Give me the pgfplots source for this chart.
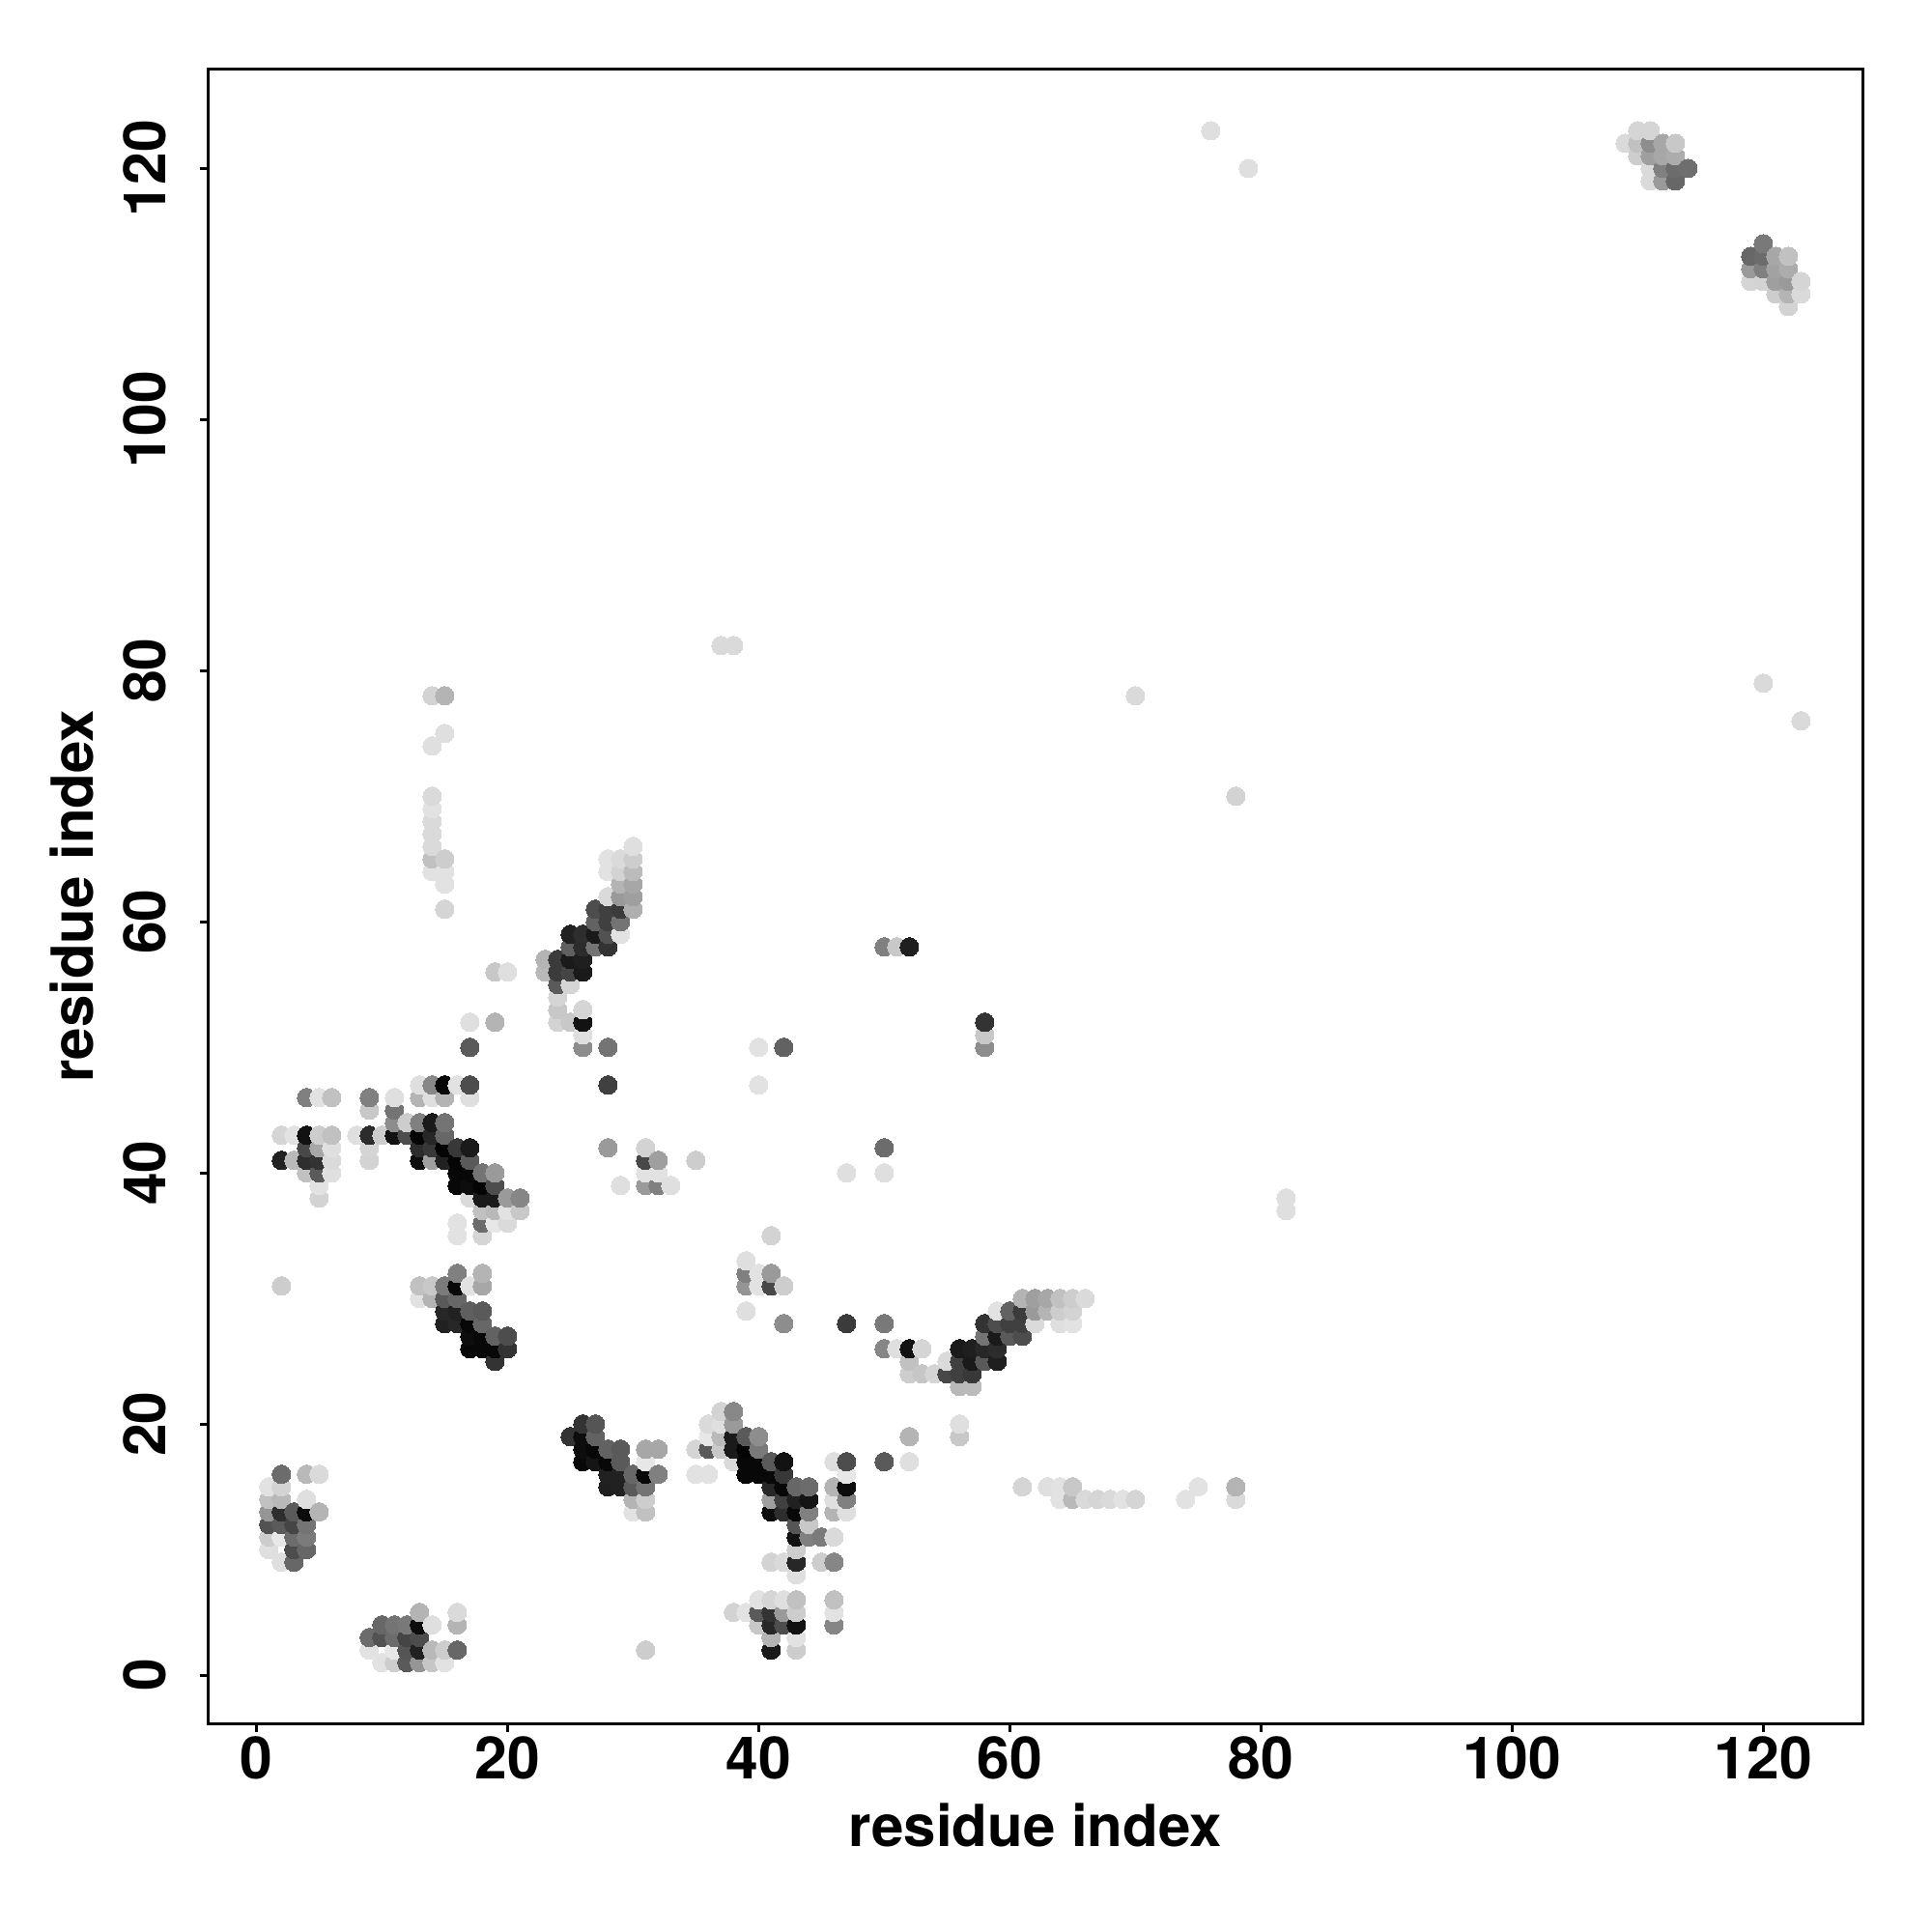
\documentclass[border=0pt]{standalone}
\usepackage{fontspec}
\setmainfont{TeX Gyre Heros}
\usepackage{pgfplots}
\usepackage{pgfplotstable}
\pgfplotsset{compat=1.18}

% contact map: residue i, residue j, gray level (0 black, 1 white)
\pgfplotstableread[row sep=\\]{
x y g \\
% top right
110 123 .83 \\ 111 123 .83 \\
109 122 .85 \\ 110 122 .75 \\ 111 122 .55 \\ 112 122 .65 \\ 113 122 .78 \\
110 121 .80 \\ 111 121 .62 \\ 112 121 .65 \\ 113 121 .67 \\
111 120 .85 \\ 112 120 .50 \\ 113 120 .42 \\ 114 120 .43 \\
111 119 .85 \\ 112 119 .60 \\ 113 119 .40 \\
120 114 .47 \\
119 113 .40 \\ 120 113 .42 \\ 121 113 .65 \\ 122 113 .75 \\
119 112 .60 \\ 120 112 .50 \\ 121 112 .63 \\ 122 112 .67 \\
119 111 .83 \\ 120 111 .82 \\ 121 111 .62 \\ 122 111 .60 \\ 123 111 .83 \\
121 110 .80 \\ 122 110 .70 \\ 123 110 .85 \\
122 109 .82 \\
% lone points
76 123 .87 \\ 79 120 .87 \\ 37 82 .85 \\ 38 82 .85 \\ 70 78 .85 \\ 78 70 .82 \\
120 79 .85 \\ 123 76 .85 \\ 82 38 .87 \\ 82 37 .87 \\
50 58 .50 \\ 51 58 .78 \\ 52 58 .12 \\ 58 52 .20 \\ 58 51 .78 \\ 58 50 .55 \\
42 50 .38 \\ 40 50 .88 \\ 40 47 .88 \\ 28 47 .25 \\ 28 50 .45 \\ 28 42 .60 \\
74 14 .88 \\ 75 15 .88 \\ 78 15 .70 \\ 78 14 .85 \\
47 40 .87 \\ 50 40 .87 \\ 50 42 .42 \\ 35 41 .80 \\ 29 39 .87 \\
% column at 14, 15
14 78 .82 \\ 15 78 .70 \\ 15 75 .87 \\ 14 74 .87 \\ 14 70 .85 \\ 14 69 .88 \\
14 68 .85 \\ 14 67 .85 \\ 14 66 .85 \\ 14 65 .75 \\ 15 65 .80 \\ 14 64 .88 \\
15 64 .88 \\ 15 63 .88 \\ 15 61 .83 \\ 19 56 .78 \\ 20 56 .87 \\
% diagonal 23-30 / 52-66
30 66 .87 \\ 28 65 .88 \\ 29 65 .85 \\ 30 65 .80 \\ 28 64 .88 \\ 29 64 .82 \\ 30 64 .73 \\
29 63 .70 \\ 30 63 .65 \\ 28 62 .85 \\ 29 62 .60 \\ 30 62 .62 \\
27 61 .30 \\ 28 61 .25 \\ 29 61 .23 \\ 30 61 .68 \\
27 60 .38 \\ 28 60 .25 \\ 29 60 .45 \\
25 59 .13 \\ 26 59 .18 \\ 27 59 .10 \\ 28 59 .32 \\ 29 59 .88 \\
25 58 .37 \\ 26 58 .17 \\ 27 58 .45 \\ 28 58 .20 \\
23 57 .70 \\ 24 57 .23 \\ 25 57 .10 \\ 26 57 .12 \\
23 56 .72 \\ 24 56 .23 \\ 25 56 .27 \\ 26 56 .10 \\
24 55 .35 \\ 25 55 .83 \\ 24 54 .83 \\ 24 53 .78 \\ 26 53 .83 \\
17 52 .87 \\ 19 52 .70 \\ 24 52 .82 \\ 25 52 .78 \\ 26 52 .07 \\
26 51 .87 \\ 17 50 .35 \\ 26 50 .55 \\
% cluster 2-21 / 35-47
13 47 .87 \\ 14 47 .53 \\ 15 47 .03 \\ 16 47 .88 \\ 17 47 .30 \\
4 46 .50 \\ 5 46 .88 \\ 6 46 .75 \\ 9 46 .50 \\ 11 46 .87 \\ 13 46 .70 \\ 14 46 .87 \\ 15 46 .70 \\ 17 46 .87 \\
9 45 .78 \\ 11 45 .45 \\
11 44 .55 \\ 12 44 .80 \\ 13 44 .50 \\ 14 44 .10 \\ 15 44 .45 \\
2 43 .83 \\ 3 43 .88 \\ 4 43 .07 \\ 5 43 .80 \\ 6 43 .75 \\ 8 43 .87 \\ 9 43 .17 \\ 10 43 .80 \\
11 43 .07 \\ 12 43 .30 \\ 13 43 .02 \\ 14 43 .15 \\ 15 43 .40 \\
4 42 .28 \\ 5 42 .65 \\ 6 42 .87 \\ 9 42 .83 \\ 13 42 .17 \\ 14 42 .22 \\ 15 42 .02 \\ 16 42 .22 \\ 17 42 .10 \\
2 41 .13 \\ 3 41 .72 \\ 4 41 .18 \\ 5 41 .20 \\ 6 41 .85 \\ 9 41 .82 \\ 13 41 .05 \\ 14 41 .62 \\ 15 41 .13 \\ 16 41 .02 \\ 17 41 .35 \\
4 40 .75 \\ 5 40 .35 \\ 6 40 .87 \\ 16 40 .03 \\ 17 40 .03 \\ 18 40 .45 \\ 19 40 .60 \\
5 39 .88 \\ 16 39 .03 \\ 17 39 .05 \\ 18 39 .02 \\ 19 39 .30 \\
5 38 .82 \\ 17 38 .85 \\ 18 38 .10 \\ 19 38 .10 \\ 20 38 .60 \\ 21 38 .52 \\
18 37 .75 \\ 19 37 .72 \\ 20 37 .88 \\ 21 37 .78 \\
16 36 .88 \\ 18 36 .42 \\ 19 36 .90 \\ 20 36 .85 \\
16 35 .88 \\ 18 35 .83 \\
% small group 31-33 / 39-42
31 42 .82 \\ 31 41 .28 \\ 32 41 .62 \\ 31 40 .88 \\ 32 40 .88 \\ 31 39 .60 \\ 32 39 .50 \\ 33 39 .87 \\
% group 39-42 / 29-35
41 35 .82 \\ 39 33 .87 \\ 39 32 .50 \\ 40 32 .88 \\ 41 32 .60 \\
39 31 .58 \\ 40 31 .88 \\ 41 31 .28 \\ 42 31 .80 \\ 39 29 .87 \\ 42 28 .55 \\ 47 28 .23 \\ 50 28 .47 \\ 50 26 .52 \\
% cluster 13-20 / 25-32
16 32 .50 \\ 18 32 .70 \\
2 31 .80 \\ 13 31 .75 \\ 14 31 .78 \\ 15 31 .48 \\ 16 31 .03 \\ 17 31 .88 \\ 18 31 .65 \\
13 30 .88 \\ 14 30 .70 \\ 15 30 .35 \\ 16 30 .40 \\
15 29 .15 \\ 16 29 .13 \\ 17 29 .37 \\ 18 29 .35 \\
15 28 .13 \\ 16 28 .15 \\ 17 28 .03 \\ 18 28 .40 \\
17 27 .05 \\ 18 27 .03 \\ 19 27 .38 \\ 20 27 .30 \\
17 26 .03 \\ 18 26 .03 \\ 19 26 .03 \\ 20 26 .20 \\
19 25 .20 \\
% diagonal 50-66 / 23-30
61 30 .70 \\ 62 30 .62 \\ 63 30 .65 \\ 64 30 .75 \\ 65 30 .80 \\ 66 30 .85 \\
59 29 .88 \\ 60 29 .38 \\ 61 29 .23 \\ 62 29 .60 \\ 63 29 .70 \\ 64 29 .80 \\ 65 29 .82 \\
58 28 .20 \\ 59 28 .30 \\ 60 28 .25 \\ 61 28 .25 \\ 62 28 .85 \\ 64 28 .87 \\ 65 28 .88 \\
58 27 .45 \\ 59 27 .10 \\ 60 27 .35 \\ 61 27 .30 \\
51 26 .87 \\ 52 26 .07 \\ 53 26 .83 \\ 56 26 .10 \\ 57 26 .12 \\ 58 26 .15 \\ 59 26 .17 \\
52 25 .75 \\ 55 25 .85 \\ 56 25 .25 \\ 57 25 .10 \\ 58 25 .35 \\ 59 25 .12 \\
52 24 .80 \\ 53 24 .77 \\ 54 24 .83 \\ 55 24 .28 \\ 56 24 .25 \\ 57 24 .22 \\
56 23 .72 \\ 57 23 .73 \\
56 20 .87 \\ 56 19 .78 \\ 52 19 .70 \\ 50 17 .35 \\ 52 17 .87 \\
61 15 .83 \\ 63 15 .87 \\ 64 15 .88 \\ 65 15 .78 \\
64 14 .88 \\ 65 14 .72 \\ 66 14 .85 \\ 67 14 .83 \\ 68 14 .85 \\ 69 14 .88 \\ 70 14 .83 \\
% cluster 25-32 / 13-20
26 20 .20 \\ 27 20 .33 \\
25 19 .20 \\ 26 19 .05 \\ 27 19 .38 \\
26 18 .05 \\ 27 18 .03 \\ 28 18 .38 \\ 29 18 .35 \\ 31 18 .65 \\ 32 18 .65 \\
26 17 .03 \\ 27 17 .08 \\ 28 17 .03 \\ 29 17 .35 \\ 31 17 .90 \\
28 16 .13 \\ 29 16 .13 \\ 30 16 .40 \\ 31 16 .03 \\ 32 16 .50 \\
28 15 .12 \\ 29 15 .13 \\ 30 15 .35 \\ 31 15 .45 \\
30 14 .70 \\ 31 14 .80 \\ 30 13 .88 \\ 31 13 .75 \\
% cluster 35-47 / 8-21
37 21 .82 \\ 38 21 .53 \\
36 20 .85 \\ 37 20 .87 \\ 38 20 .60 \\
36 19 .90 \\ 37 19 .72 \\ 38 19 .10 \\ 39 19 .35 \\ 40 19 .55 \\
35 18 .83 \\ 36 18 .35 \\ 37 18 .78 \\ 38 18 .10 \\ 39 18 .02 \\ 40 18 .47 \\
38 17 .85 \\ 39 17 .03 \\ 40 17 .03 \\ 41 17 .35 \\ 42 17 .07 \\ 46 17 .87 \\ 47 17 .30 \\
35 16 .88 \\ 36 16 .88 \\ 39 16 .03 \\ 40 16 .03 \\ 41 16 .03 \\ 42 16 .22 \\ 47 16 .90 \\
41 15 .15 \\ 42 15 .03 \\ 43 15 .40 \\ 44 15 .42 \\ 46 15 .70 \\ 47 15 .05 \\
41 14 .62 \\ 42 14 .25 \\ 43 14 .13 \\ 44 14 .08 \\ 46 14 .87 \\ 47 14 .50 \\
41 13 .05 \\ 42 13 .18 \\ 43 13 .03 \\ 44 13 .50 \\ 46 13 .70 \\ 47 13 .87 \\
43 12 .33 \\ 44 12 .78 \\
43 11 .07 \\ 44 11 .50 \\ 45 11 .48 \\ 46 11 .85 \\
43 10 .80 \\
41 9 .82 \\ 42 9 .85 \\ 43 9 .15 \\ 45 9 .80 \\ 46 9 .52 \\
43 8 .87 \\
% cluster 38-46 / 2-6
40 6 .88 \\ 41 6 .83 \\ 42 6 .87 \\ 43 6 .75 \\ 46 6 .75 \\
38 5 .82 \\ 39 5 .88 \\ 40 5 .35 \\ 41 5 .20 \\ 42 5 .60 \\ 43 5 .80 \\ 46 5 .88 \\
40 4 .78 \\ 41 4 .15 \\ 42 4 .30 \\ 43 4 .07 \\ 46 4 .52 \\
41 3 .70 \\ 43 3 .88 \\
31 2 .80 \\ 41 2 .10 \\ 43 2 .80 \\
% cluster 1-5 / 9-16
2 16 .42 \\ 4 16 .72 \\ 5 16 .85 \\
1 15 .88 \\ 2 15 .82 \\
1 14 .75 \\ 2 14 .72 \\ 4 14 .87 \\
1 13 .58 \\ 2 13 .18 \\ 3 13 .35 \\ 4 13 .05 \\ 5 13 .70 \\
1 12 .32 \\ 2 12 .35 \\ 3 12 .27 \\ 4 12 .45 \\
1 11 .80 \\ 2 11 .90 \\ 3 11 .42 \\ 4 11 .48 \\
1 10 .87 \\ 3 10 .30 \\ 4 10 .40 \\
2 9 .87 \\ 3 9 .40 \\
% cluster 9-16 / 1-5
13 5 .70 \\ 16 5 .85 \\
10 4 .40 \\ 11 4 .45 \\ 12 4 .47 \\ 13 4 .05 \\ 14 4 .87 \\ 16 4 .70 \\
9 3 .42 \\ 10 3 .32 \\ 11 3 .42 \\ 12 3 .27 \\ 13 3 .30 \\
9 2 .88 \\ 11 2 .90 \\ 12 2 .33 \\ 13 2 .13 \\ 14 2 .72 \\ 15 2 .80 \\ 16 2 .40 \\
10 1 .88 \\ 11 1 .80 \\ 12 1 .35 \\ 13 1 .58 \\ 14 1 .77 \\ 15 1 .88 \\
}\contacts

% points overlap in column order, later on top
\pgfplotstableset{create on use/k/.style={create col/expr={130*\thisrow{x}+\thisrow{y}}}}
\pgfplotstablesort[sort key=k]{\sorted}{\contacts}

\begin{document}
\begin{tikzpicture}
\path[use as bounding box] (0,0) rectangle (720pt,720pt);
\begin{axis}[
    at={(77.6pt,77.7pt)},
    anchor=south west,
    scale only axis,
    width=616.5pt,
    height=616.5pt,
    xmin=-3.83, xmax=127.9,
    ymin=-3.85, ymax=127.9,
    xtick={0,20,...,120},
    ytick={0,20,...,120},
    axis line style={line width=1.1pt},
    tick style={line width=1.1pt, black},
    tick align=outside,
    major tick length=3.1pt,
    xtick pos=lower,
    ytick pos=left,
    /pgf/number format/assume math mode=true,
    tick label style={font=\fontsize{21.8}{25}\selectfont\bfseries},
    xticklabel style={yshift=1.6pt},
    yticklabel style={rotate=90, anchor=south, yshift=9pt},
    label style={font=\fontsize{21.6}{25}\selectfont\bfseries},
    xlabel style={yshift=-2pt},
    ylabel style={yshift=4.1pt},
    xlabel={residue index},
    ylabel={residue index},
    colormap={bwgray}{gray(0cm)=(0); gray(1cm)=(1)},
    point meta min=0,
    point meta max=1,
]
\addplot[
    scatter,
    only marks,
    mark=*,
    mark size=3.45pt,
    mark options={line width=0pt},
    point meta=explicit,
    scatter/use mapped color={draw=mapped color, fill=mapped color},
] table[x=x, y=y, meta=g] {\sorted};
\end{axis}
\end{tikzpicture}
\end{document}
